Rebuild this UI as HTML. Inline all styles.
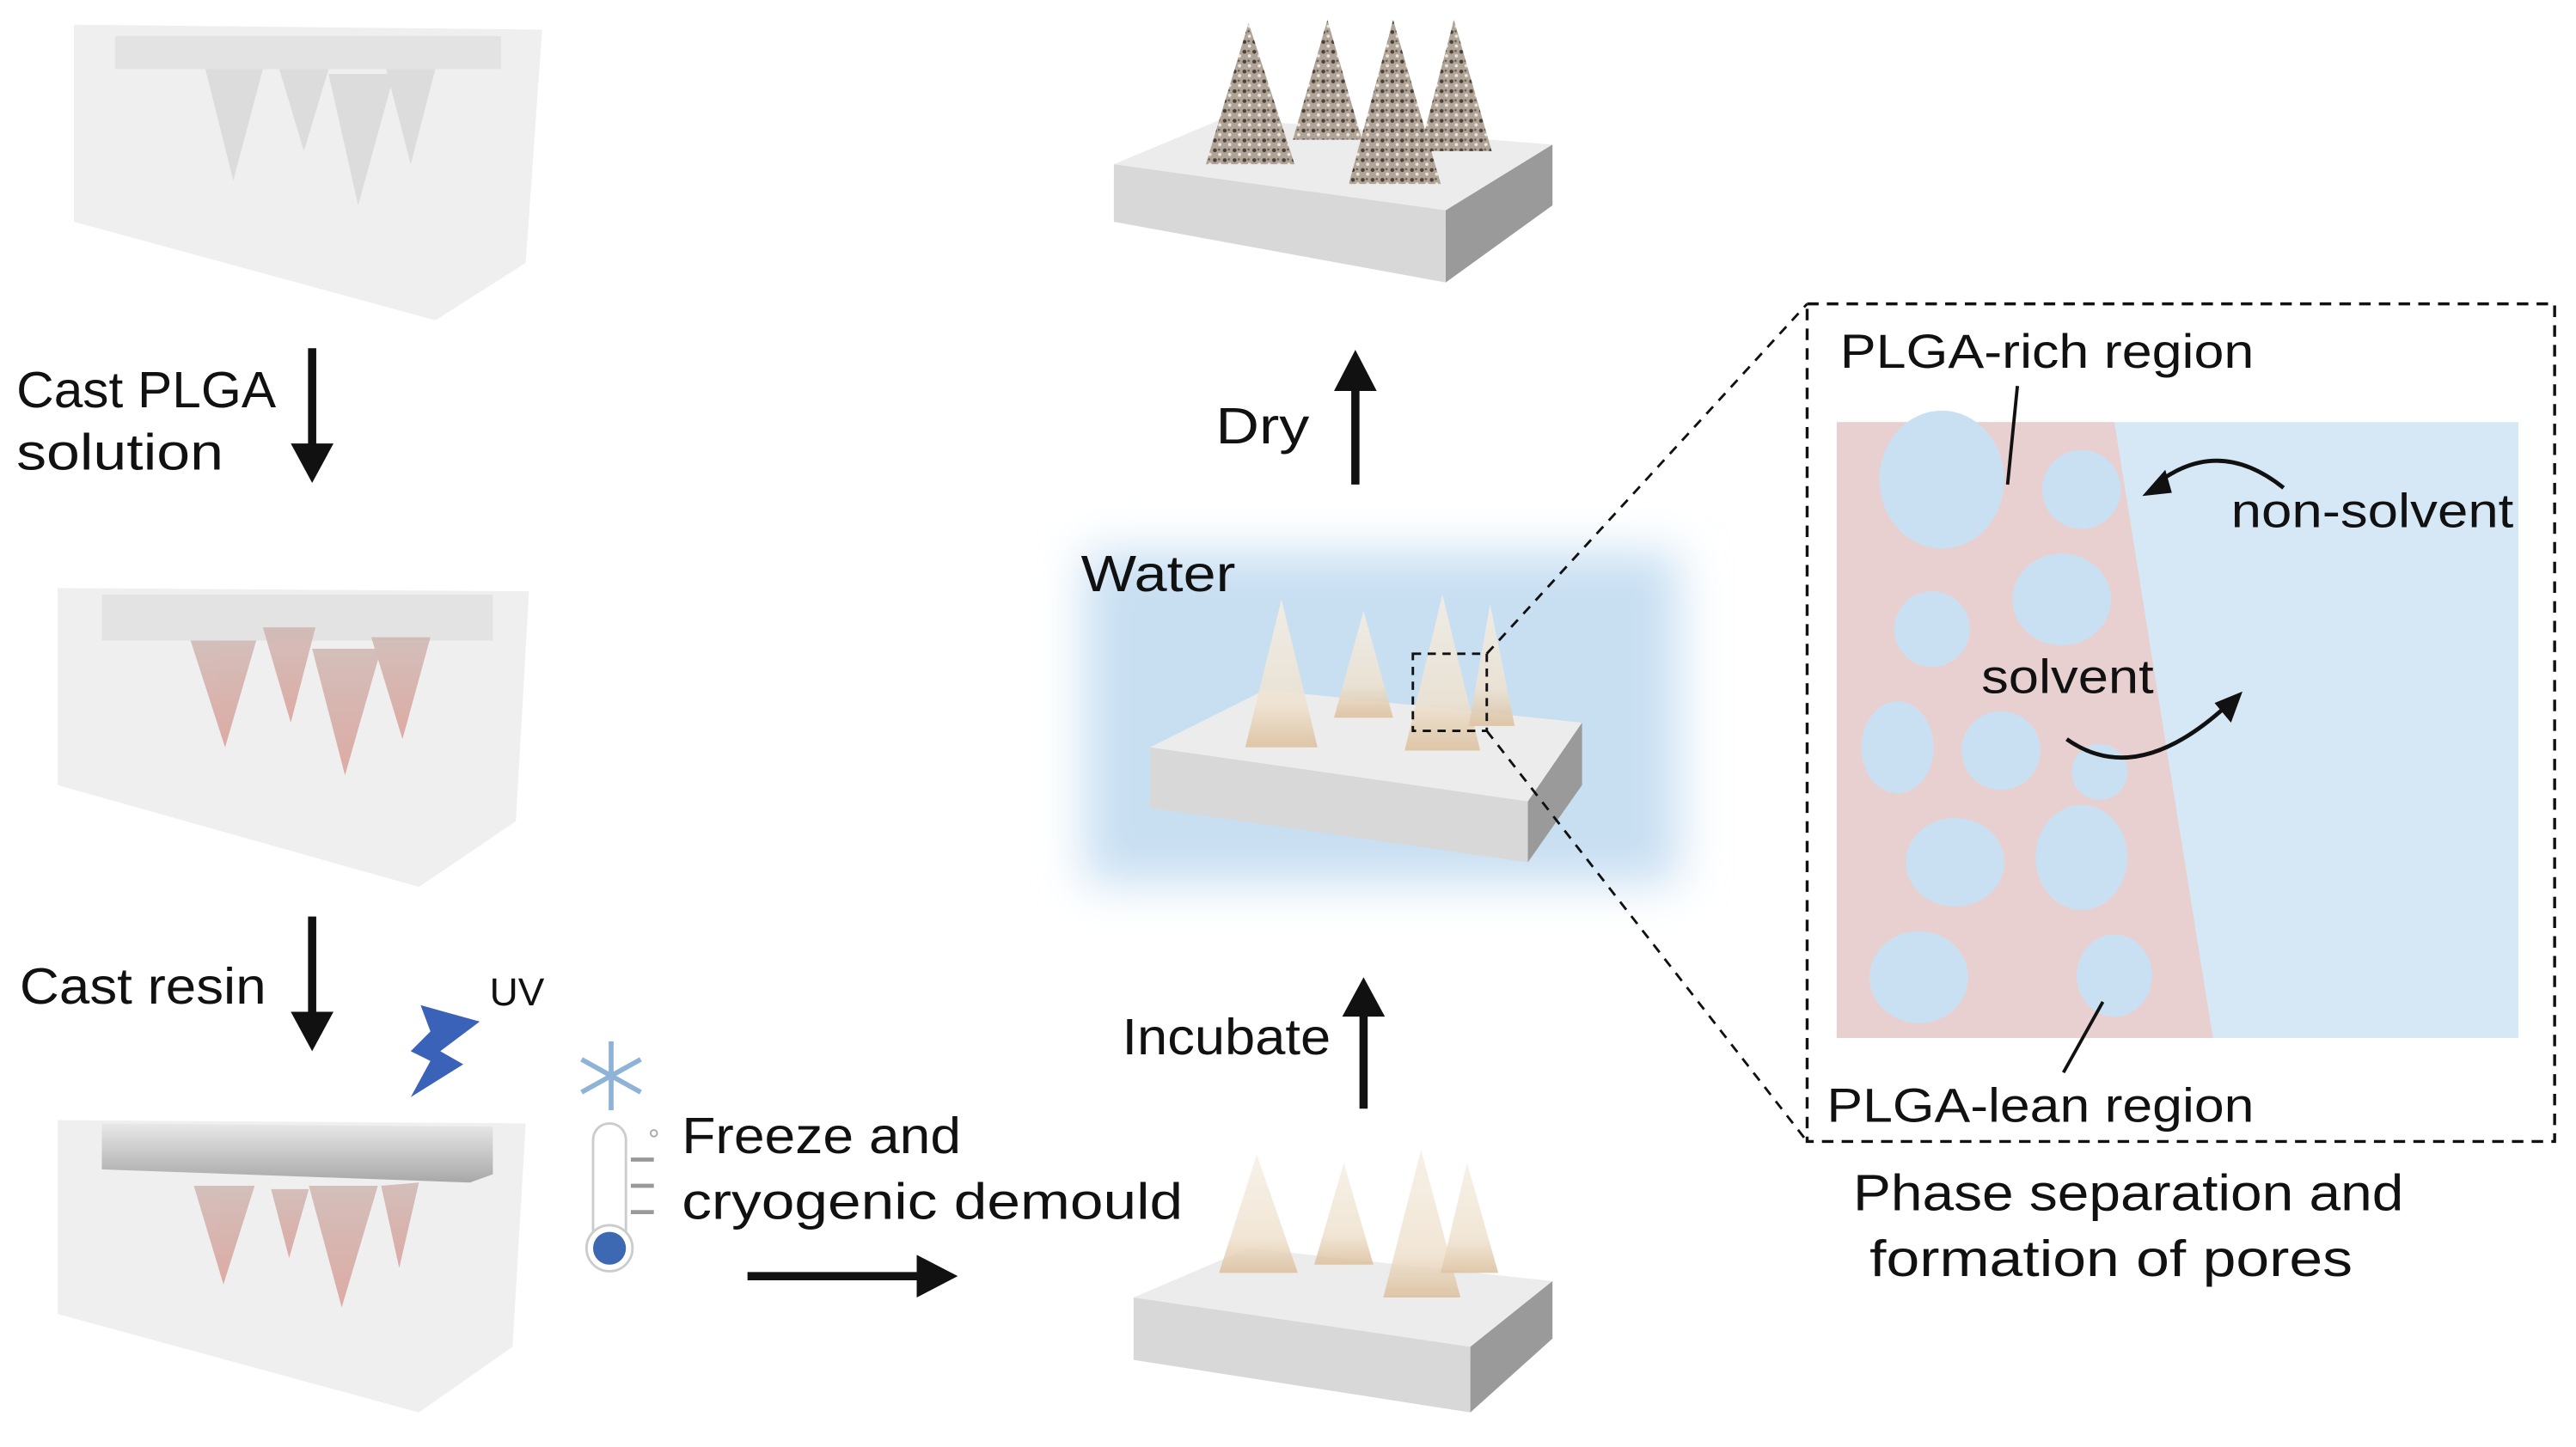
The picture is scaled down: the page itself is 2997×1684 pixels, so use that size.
<!DOCTYPE html>
<html><head><meta charset="utf-8"><style>
html,body{margin:0;padding:0;background:#fff;}
svg{display:block;}
text{font-family:"Liberation Sans",sans-serif;fill:#111;}
</style></head><body>
<svg width="2997" height="1684" viewBox="0 0 1568 881" xmlns="http://www.w3.org/2000/svg">
<defs>
<filter id="blur" x="-20%" y="-20%" width="140%" height="140%"><feGaussianBlur stdDeviation="14"/></filter>
<pattern id="speck" width="6" height="6" patternUnits="userSpaceOnUse">
<rect width="6" height="6" fill="#b0a498"/>
<circle cx="1.5" cy="1.5" r="1.2" fill="#4a4038"/>
<circle cx="4.5" cy="4" r="1" fill="#ece5dc"/>
<circle cx="4" cy="1" r="0.7" fill="#6b5d50"/>
</pattern>
<linearGradient id="cone" x1="0" y1="0" x2="0" y2="1">
<stop offset="0" stop-color="#f6efe4"/><stop offset="0.7" stop-color="#efe2cf"/><stop offset="1" stop-color="#dcbf9c"/>
</linearGradient>
<linearGradient id="pcone" x1="0" y1="0" x2="0" y2="1">
<stop offset="0" stop-color="#cdb3ae"/><stop offset="1" stop-color="#d99a92"/>
</linearGradient>
<linearGradient id="plate" x1="0" y1="0" x2="0" y2="1">
<stop offset="0" stop-color="#e8e8e8"/><stop offset="1" stop-color="#a8a8a8"/>
</linearGradient>
</defs>

<!-- Mould 1 -->
<polygon points="45,15 330,18 320,160 265,195 45,135" fill="#efefef"/>
<polygon points="70,22 305,22 305,42 70,42" fill="#e3e3e3"/>
<polygon points="125,42 160,42 142,110" fill="#dcdcdc"/>
<polygon points="170,42 200,42 185,92" fill="#dcdcdc"/>
<polygon points="200,45 240,45 218,125" fill="#dcdcdc"/>
<polygon points="235,42 265,42 250,100" fill="#dcdcdc"/>

<g lengthAdjust="spacingAndGlyphs">
<text x="10" y="248" font-size="31" textLength="158" lengthAdjust="spacingAndGlyphs">Cast PLGA</text>
<text x="10" y="286" font-size="31" textLength="126" lengthAdjust="spacingAndGlyphs">solution</text>
</g>
<line x1="190" y1="212" x2="190" y2="272" stroke="#111" stroke-width="5"/>
<polygon points="177,270 203,270 190,294" fill="#111"/>

<!-- Mould 2 -->
<polygon points="35,358 322,360 314,500 255,540 35,478" fill="#efefef"/>
<polygon points="62,362 300,362 300,390 62,390" fill="#e3e3e3"/>
<g opacity="0.8">
<polygon points="116,390 156,390 137,455" fill="url(#pcone)"/>
<polygon points="160,382 192,382 177,440" fill="url(#pcone)"/>
<polygon points="190,395 232,395 210,472" fill="url(#pcone)"/>
<polygon points="226,388 262,388 245,450" fill="url(#pcone)"/>
</g>

<text x="12" y="611" font-size="31" textLength="150" lengthAdjust="spacingAndGlyphs">Cast resin</text>
<line x1="190" y1="558" x2="190" y2="618" stroke="#111" stroke-width="5"/>
<polygon points="177,616 203,616 190,640" fill="#111"/>
<polygon points="256,612 292,622 268,640 282,648 250,668 262,646 250,640 262,628" fill="#3a62b8"/>
<text x="298" y="612" font-size="24">UV</text>

<!-- Mould 3 -->
<polygon points="35,682 320,684 312,820 255,860 35,800" fill="#efefef"/>
<polygon points="62,684 300,686 300,715 286,720 62,712" fill="url(#plate)"/>
<g opacity="0.8">
<polygon points="118,722 155,722 136,782" fill="url(#pcone)"/>
<polygon points="165,724 188,724 176,766" fill="url(#pcone)"/>
<polygon points="188,722 230,722 208,796" fill="url(#pcone)"/>
<polygon points="232,722 255,720 243,772" fill="url(#pcone)"/>
</g>

<!-- thermometer -->
<g stroke="#8fb3d6" stroke-width="3">
<line x1="372" y1="634" x2="372" y2="676"/>
<line x1="354" y1="645" x2="390" y2="665"/>
<line x1="354" y1="665" x2="390" y2="645"/>
</g>
<rect x="361" y="684" width="20" height="76" rx="10" fill="#fff" stroke="#ccc" stroke-width="1.5"/>
<circle cx="371" cy="760" r="14" fill="#fff" stroke="#ccc" stroke-width="1.5"/>
<circle cx="371" cy="760" r="10" fill="#3d68b2"/>
<g stroke="#999" stroke-width="2.5"><line x1="384" y1="706" x2="398" y2="706"/><line x1="384" y1="722" x2="398" y2="722"/><line x1="384" y1="738" x2="398" y2="738"/></g>
<circle cx="398" cy="690" r="2" fill="none" stroke="#aaa"/>
<text x="415" y="702" font-size="31" textLength="170" lengthAdjust="spacingAndGlyphs">Freeze and</text>
<text x="415" y="742" font-size="31" textLength="305" lengthAdjust="spacingAndGlyphs">cryogenic demould</text>
<line x1="455" y1="777" x2="560" y2="777" stroke="#111" stroke-width="5"/>
<polygon points="558,764 583,777 558,790" fill="#111"/>

<!-- bottom patch -->
<polygon points="690,790 760,760 945,780 895,820" fill="#ececec"/>
<polygon points="690,790 895,820 895,860 690,828" fill="#d8d8d8"/>
<polygon points="895,820 945,780 945,815 895,860" fill="#9a9a9a"/>
<g opacity="0.85">
<polygon points="765,703 742,775 790,775" fill="url(#cone)"/>
<polygon points="818,708 800,770 836,770" fill="url(#cone)"/>
<polygon points="865,700 842,790 889,790" fill="url(#cone)"/>
<polygon points="893,708 877,775 912,775" fill="url(#cone)"/>
</g>

<text x="683" y="642" font-size="31" textLength="127" lengthAdjust="spacingAndGlyphs">Incubate</text>
<line x1="830" y1="617" x2="830" y2="675" stroke="#111" stroke-width="5"/>
<polygon points="817,619 843,619 830,595" fill="#111"/>

<!-- water -->
<rect x="660" y="336" width="362" height="202" fill="#c8dff2" filter="url(#blur)"/>
<text x="658" y="360" font-size="31" textLength="94" lengthAdjust="spacingAndGlyphs">Water</text>
<polygon points="700,455 770,420 963,440 930,488" fill="#ececec"/>
<polygon points="700,455 930,488 930,525 700,492" fill="#d8d8d8"/>
<polygon points="930,488 963,440 963,478 930,525" fill="#9a9a9a"/>
<g opacity="0.85">
<polygon points="780,365 758,455 802,455" fill="url(#cone)"/>
<polygon points="830,372 812,437 848,437" fill="url(#cone)"/>
<polygon points="878,362 855,457 901,457" fill="url(#cone)"/>
<polygon points="907,368 894,442 922,442" fill="url(#cone)"/>
</g>
<rect x="860" y="398" width="45" height="47" fill="none" stroke="#111" stroke-width="1.5" stroke-dasharray="5,4"/>
<line x1="905" y1="398" x2="1100" y2="185" stroke="#111" stroke-width="1.5" stroke-dasharray="6,5"/>
<line x1="905" y1="445" x2="1100" y2="695" stroke="#111" stroke-width="1.5" stroke-dasharray="6,5"/>

<text x="740" y="270" font-size="31" textLength="57" lengthAdjust="spacingAndGlyphs">Dry</text>
<line x1="825" y1="236" x2="825" y2="295" stroke="#111" stroke-width="5"/>
<polygon points="812,238 838,238 825,213" fill="#111"/>

<!-- top patch -->
<polygon points="678,100 745,72 945,88 880,128" fill="#ececec"/>
<polygon points="678,100 880,128 880,172 678,135" fill="#d8d8d8"/>
<polygon points="880,128 945,88 945,125 880,172" fill="#9a9a9a"/>
<polygon points="760,14 734,100 788,100" fill="url(#speck)"/>
<polygon points="808,12 787,85 829,85" fill="url(#speck)"/>
<polygon points="885,12 864,92 908,92" fill="url(#speck)"/>
<polygon points="848,12 821,112 877,112" fill="url(#speck)"/>

<!-- zoom box -->
<rect x="1100" y="185" width="455" height="510" fill="none" stroke="#111" stroke-width="1.8" stroke-dasharray="7,5"/>
<rect x="1118" y="257" width="415" height="375" fill="#d6e7f5"/>
<polygon points="1118,257 1287,257 1347,632 1118,632" fill="#e8d0d0"/>
<g fill="#c9e0f2">
<ellipse cx="1182" cy="292" rx="38" ry="42"/>
<circle cx="1267" cy="298" r="24"/>
<circle cx="1176" cy="383" r="23"/>
<ellipse cx="1255" cy="365" rx="30" ry="28"/>
<ellipse cx="1155" cy="455" rx="22" ry="28"/>
<circle cx="1218" cy="457" r="24"/>
<circle cx="1278" cy="470" r="17"/>
<ellipse cx="1190" cy="525" rx="30" ry="27"/>
<ellipse cx="1267" cy="522" rx="28" ry="32"/>
<ellipse cx="1168" cy="595" rx="30" ry="28"/>
<ellipse cx="1287" cy="594" rx="23" ry="25"/>
</g>
<line x1="1228" y1="235" x2="1222" y2="295" stroke="#111" stroke-width="2"/>
<line x1="1256" y1="653" x2="1280" y2="610" stroke="#111" stroke-width="2"/>
<path d="M1390,297 Q1350,265 1312,295" fill="none" stroke="#111" stroke-width="2.5"/>
<polygon points="1304,302 1318,286 1322,300" fill="#111"/>
<path d="M1258,450 Q1300,480 1355,430" fill="none" stroke="#111" stroke-width="2.5"/>
<polygon points="1365,421 1348,428 1358,440" fill="#111"/>
<text x="1120" y="224" font-size="29" textLength="252" lengthAdjust="spacingAndGlyphs">PLGA-rich region</text>
<text x="1358" y="321" font-size="29" textLength="172" lengthAdjust="spacingAndGlyphs">non-solvent</text>
<text x="1206" y="422" font-size="29" textLength="105" lengthAdjust="spacingAndGlyphs">solvent</text>
<text x="1112" y="683" font-size="29" textLength="260" lengthAdjust="spacingAndGlyphs">PLGA-lean region</text>
<text x="1128" y="737" font-size="31" textLength="335" lengthAdjust="spacingAndGlyphs">Phase separation and</text>
<text x="1138" y="777" font-size="31" textLength="294" lengthAdjust="spacingAndGlyphs">formation of pores</text>
</svg>
</body></html>
